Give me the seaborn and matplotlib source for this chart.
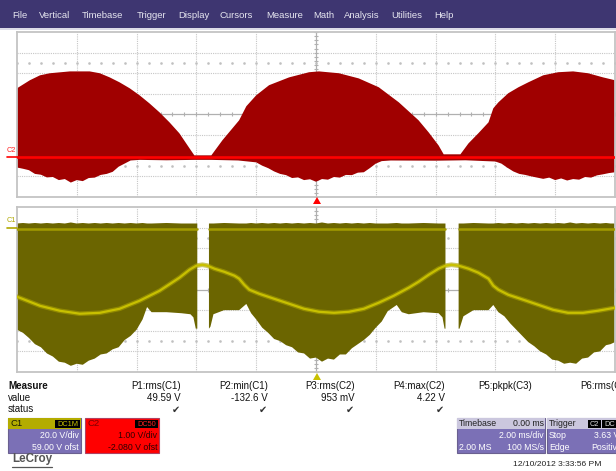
import numpy as np
import matplotlib
matplotlib.use('Agg')
import matplotlib.pyplot as plt
import seaborn as sns
from matplotlib.patches import Rectangle, Polygon

sns.set_theme(style='white')
plt.rcParams['font.family'] = ['Liberation Sans', 'DejaVu Sans']

# ---------------- data (time in ms, volts) ----------------
# C2 (red, 1 V/div, offset -2.08 V): upper envelope
c2_hi_t = [-10.0, -9.57, -9.23, -8.9, -8.23, -7.57, -7.23, -6.9, -6.57, -6.23, -5.9, -5.57,
           -5.23, -4.9, -4.57, -4.23, -4.07, -3.5, -3.13, -2.57, -2.33, -2.0, -1.57, -0.9,
           -0.23, 0.1, 0.77, 1.43, 2.1, 2.77, 3.43, 3.77, 4.1, 4.27, 4.83, 5.1, 5.43, 5.77,
           5.93, 6.1, 6.43, 6.77, 7.1, 7.6, 8.1, 8.6, 9.1, 9.6, 10.0]
c2_hi_v = [3.35, 3.74, 3.98, 4.08, 4.17, 4.17, 4.08, 3.88, 3.64, 3.35, 3.01, 2.62,
           2.18, 1.70, 1.17, 0.44, 0.10, 0.10, 0.83, 1.80, 2.48, 3.01, 3.50, 3.88,
           4.13, 4.17, 4.08, 3.83, 3.40, 2.67, 1.80, 1.21, 0.58, 0.15, 0.15, 0.68, 1.17, 1.70,
           2.38, 2.67, 3.11, 3.40, 3.64, 3.98, 4.13, 4.17, 4.08, 3.88, 3.74]
# C2 lower envelope
c2_lo_t = [-10.0, -9.8, -9.6, -9.4, -9.2, -9.0, -8.8, -8.6, -8.4, -8.2, -8.0, -7.8, -7.6,
           -7.4, -7.2, -7.0, -6.8, -6.6, -6.4, -6.2, -5.9, -5.0, -4.07, -3.5, -2.6, -2.0,
           -1.8, -1.6, -1.4, -1.2, -1.0, -0.8, -0.6, -0.4, -0.2, 0.0, 0.2, 0.4, 0.6, 0.8,
           1.0, 1.2, 1.4, 1.6, 1.8, 2.0, 2.2, 2.5, 4.0, 5.0, 6.0, 6.2, 6.4, 6.6, 6.8, 7.0,
           7.2, 7.4, 7.6, 7.8, 8.0, 8.2, 8.4, 8.6, 8.8, 9.0, 9.2, 9.4, 9.6, 9.8, 10.0]
c2_lo_v = [-0.49, -0.55, -0.62, -0.80, -0.84, -0.97, -0.95, -1.10, -1.05, -1.22, -1.10, -1.15, -1.00,
           -0.98, -0.85, -0.80, -0.70, -0.45, -0.30, -0.15, -0.12, -0.14, -0.12, -0.12, -0.15, -0.24,
           -0.40, -0.52, -0.68, -0.80, -0.86, -1.00, -0.97, -1.10, -1.06, -1.18, -1.05, -1.08, -0.95, -0.98,
           -0.85, -0.86, -0.74, -0.72, -0.52, -0.30, -0.18, -0.15, -0.16, -0.14, -0.20, -0.30, -0.50, -0.68, -0.80, -0.85,
           -0.92, -0.98, -1.04, -0.98, -1.10, -1.02, -1.12, -1.05, -1.08, -0.95, -0.98, -0.87, -0.82, -0.76, -0.72]

# C1 (olive, 20 V/div, offset 59 V): envelope on a common grid, NaN = gap
nan = np.nan
c1_t = [-10.0, -9.8, -9.6, -9.4, -9.2, -9.0, -8.8, -8.6, -8.4, -8.2, -8.0, -7.8, -7.6, -7.4,
        -7.2, -7.0, -6.8, -6.6, -6.4, -6.2, -6.0, -5.8, -5.65, -5.5, -5.0, -4.5, -4.2, -4.1,
        -4.02, -3.97, -3.8, -3.58, -3.53, -3.43, -3.07, -2.57, -2.33, -2.17, -2.0, -1.8, -1.6,
        -1.4, -1.2, -1.0, -0.8, -0.6, -0.4, -0.2, 0.0, 0.2, 0.4, 0.6, 0.8, 1.0, 1.2, 1.4, 1.6,
        1.8, 2.0, 2.2, 2.4, 2.7, 2.87, 3.1, 3.6, 4.1, 4.23, 4.3, 4.33, 4.55, 4.77, 4.8, 4.93,
        5.27, 5.77, 5.93, 6.1, 6.3, 6.5, 6.7, 6.9, 7.1, 7.3, 7.5, 7.7, 7.9, 8.1, 8.3, 8.5, 8.7,
        8.9, 9.1, 9.3, 9.5, 9.7, 9.85, 10.0]
c1_hi = [5, 5.5, 5, 5.5, 5, 5.5, 5, 5.5, 5, 6, 5, 5.5, 5, 5.5,
         5, 5.5, 5, 5.5, 5, 5.5, 5, 5.5, 5, 5, 5.5, 5, 5, 5,
         5, 5, nan, 5, 5, 5, 5.5, 5, 5, 5.5, 5, 5.5, 5,
         5.5, 5, 5.5, 5, 5.5, 5, 5.5, 5, 6, 5, 5.5, 5, 5.5, 5, 5.5, 5,
         5.5, 5, 5, 5, 5.5, 5, 5, 5.5, 5, 5, 5, 5, nan, 5, 5, 5,
         5.5, 5, 5, 5.5, 5, 5.5, 5, 5.5, 5, 5.5, 5, 5.5, 5, 5.5, 5, 6, 5,
         5.5, 5, 5.5, 5, 5.5, 5, 5]
c1_lo = [-98, -101, -106, -112, -115, -121, -124, -129, -130, -133, -131, -132, -128, -126,
         -122, -121, -117, -115, -108, -104, -98, -88, -76, -81, -81, -82, -83, -86,
         -97, -97, nan, -97, -95, -83, -79, -79, -73, -82, -88, -96, -101,
         -107, -109, -113, -115, -120, -121, -126, -125, -129, -126, -127, -122, -122, -116, -112, -108,
         -103, -96, -90, -80, -74, -81, -83, -81, -82, -86, -97, -97, nan, -97, -97, -85,
         -79, -79, -74, -81, -85, -92, -98, -104, -110, -114, -119, -122, -127, -128, -131, -130, -131,
         -126, -125, -120, -119, -113, -112, -110]

# C1 averaged (bright) trace
c1_avg_t = [-10.0, -9.23, -8.57, -7.9, -7.23, -6.57, -5.9, -5.23, -4.57, -4.23, -4.0, -3.8, -3.63,
            -3.4, -3.07, -2.73, -2.57, -2.4, -2.23, -1.9, -1.4, -0.9, -0.4, 0.1, 0.6, 1.1, 1.6,
            2.1, 2.6, 3.1, 3.43, 3.77, 4.1, 4.33, 4.53, 4.77, 5.1, 5.43, 5.77, 5.93, 6.1, 6.43,
            6.93, 7.43, 7.93, 8.43, 8.93, 9.43, 10.0]
c1_avg_v = [-66.0, -74.8, -79.6, -82.5, -81.6, -77.7, -69.9, -60.2, -47.6, -39.8, -35.9, -35.0, -35.9,
            -38.8, -41.8, -45.6, -48.5, -54.4, -59.2, -63.1, -68.0, -72.8, -77.7, -80.6, -81.6, -80.6, -77.7,
            -71.8, -65.1, -57.3, -51.5, -44.7, -38.8, -35.9, -35.0, -35.9, -38.8, -42.7, -48.5, -55.3, -59.2, -64.1,
            -68.9, -73.8, -78.7, -81.6, -81.6, -79.6, -76.7]

menu_items = ['File', 'Vertical', 'Timebase', 'Trigger', 'Display', 'Cursors', 'Measure',
              'Math', 'Analysis', 'Utilities', 'Help']
meas_names = ['P1:rms(C1)', 'P2:min(C1)', 'P3:rms(C2)', 'P4:max(C2)', 'P5:pkpk(C3)']
meas_values = ['49.59 V', '-132.6 V', '953 mV', '4.22 V', '']

# ---------------- figure ----------------
W, H = 616, 471
fig = plt.figure(figsize=(W / 100, H / 100), dpi=100)
fig.patch.set_facecolor('white')


def fx(x):
    return x / W


def fy(y):
    return 1 - y / H


def rect(x0, y0, x1, y1, **kw):
    fig.patches.append(Rectangle((fx(x0), fy(y1)), (x1 - x0) / W, (y1 - y0) / H,
                                 transform=fig.transFigure, **kw))


def txt(x, y, s, **kw):
    kw.setdefault('va', 'center')
    fig.text(fx(x), fy(y), s, **kw)


def scope_grid(ax, center, vdiv):
    ax.set_xlim(-10, 10)
    ax.set_ylim(center - 4 * vdiv, center + 4 * vdiv)
    ax.set_xticks([])
    ax.set_yticks([])
    ax.set_facecolor('white')
    for t in range(-8, 10, 2):
        if t != 0:
            ax.axvline(t, color='#c6c6c6', lw=0.8, ls=(0, (1, 1)), zorder=0)
    for k in (-3, -2, -1, 1, 2, 3):
        ax.axhline(center + k * vdiv, color='#c6c6c6', lw=0.8, ls=(0, (1, 1)), zorder=0)
    ax.axvline(0, color='#b0b0b0', lw=0.9, zorder=0)
    ax.axhline(center, color='#b0b0b0', lw=0.9, zorder=0)
    minor = np.arange(-10, 10.01, 0.4)
    ax.plot(minor, np.full_like(minor, center), ls='none', marker='|', ms=3,
            mew=0.8, color='#b0b0b0', zorder=0)
    for k in (-2.5, 2.5):
        ax.plot(minor, np.full_like(minor, center + k * vdiv), ls='none', marker='s',
                ms=0.8, color='#c0c0c0', zorder=0)
    ymin = np.arange(center - 4 * vdiv, center + 4 * vdiv + 1e-9, vdiv / 5)
    ax.plot(np.zeros_like(ymin), ymin, ls='none', marker='_', ms=3, mew=0.8,
            color='#b0b0b0', zorder=0)
    for s in ax.spines.values():
        s.set_color('#c4c4c4')
        s.set_linewidth(1.3)


# menu bar
rect(0, 0, W, 28, color='#3e3671', lw=0)
rect(0, 28, W, 30, color='#dcdbe8', lw=0)
menu_x = [12, 39, 82, 137, 178, 220, 266, 313, 344, 391, 434]
for x, s in zip(menu_x, menu_items):
    txt(x, 16, s, color='#e6e6f0', fontsize=6.8)

# top panel: C2
ax2 = fig.add_axes([fx(17), fy(197), (615 - 17) / W, 165 / H])
scope_grid(ax2, 2.08, 1.0)
ax2.fill(np.r_[c2_hi_t, c2_lo_t[::-1]], np.r_[c2_hi_v, c2_lo_v[::-1]],
         color='#a00000', lw=0, zorder=2)
ax2.axhline(0.0, color='#ff0000', lw=1.9, zorder=3)

# bottom panel: C1
ax1 = fig.add_axes([fx(17), fy(372), (615 - 17) / W, 165 / H])
scope_grid(ax1, -59.0, 20.0)
c1_t_a = np.array(c1_t)
c1_hi_a = np.array(c1_hi, dtype=float)
c1_lo_a = np.array(c1_lo, dtype=float)
ax1.fill_between(c1_t_a, c1_lo_a, c1_hi_a, color='#6b6500', lw=0, zorder=2)
ax1.plot(c1_t_a, np.where(np.isnan(c1_hi_a), np.nan, 0.0), color='#a39c00', lw=1.8, zorder=3)
ax1.plot(c1_avg_t, c1_avg_v, color='#a8a000', lw=3.4, alpha=0.6, zorder=4)
sns.lineplot(x=c1_avg_t, y=c1_avg_v, ax=ax1, color='#c8c000', lw=1.6, zorder=5,
             sort=False, estimator=None)
ax1.set_xlabel('')
ax1.set_ylabel('')

# channel markers on the left
txt(7, 151, 'C2', color='#ff2020', fontsize=5.3)
fig.lines.append(plt.Line2D([fx(7), fx(17)], [fy(157.4), fy(157.4)], transform=fig.transFigure,
                            color='#ff0000', lw=1.2))
txt(7, 221, 'C1', color='#b0a800', fontsize=5.3)
fig.lines.append(plt.Line2D([fx(7), fx(17)], [fy(227.5), fy(227.5)], transform=fig.transFigure,
                            color='#b0a800', lw=1.2))

# trigger markers
fig.patches.append(Polygon([(fx(313), fy(204)), (fx(321), fy(204)), (fx(317), fy(197))],
                           closed=True, transform=fig.transFigure, color='#ff0000', lw=0))
fig.patches.append(Polygon([(fx(313), fy(380)), (fx(321), fy(380)), (fx(317), fy(373))],
                           closed=True, transform=fig.transFigure, color='#c8c000', lw=0))

# measure table
txt(8, 386, 'Measure', fontsize=7, fontweight='bold', color='#111111')
txt(8, 398, 'value', fontsize=7, color='#111111')
txt(8, 409.5, 'status', fontsize=7, color='#111111')
col_x = [181, 268, 355, 445, 532]
for x, name, val in zip(col_x, meas_names, meas_values):
    txt(x, 386, name, fontsize=7, ha='right', color='#111111')
    if val:
        txt(x, 398, val, fontsize=7, ha='right', color='#111111')
        txt(x - 5, 409.5, '\u2714', fontsize=7, ha='center', color='#333333',
            family=['DejaVu Sans'])
txt(580, 386, 'P6:rms(C1)', fontsize=7, color='#111111')

# C1 descriptor box
rect(8, 418, 81, 453, facecolor='#7b70b6', edgecolor='#6a6090', lw=0.8)
rect(8, 418, 81, 429, facecolor='#b4ac00', lw=0)
txt(10.5, 423.5, 'C1', fontsize=6.8, color='#1a1a00')
rect(55, 419.5, 80, 428, facecolor='#000000', lw=0)
txt(67.5, 424, 'DC1M', fontsize=5.3, ha='center', color='#c8c000')
txt(79, 436, '20.0 V/div', fontsize=6.3, ha='right', color='white')
txt(79, 447, '59.00 V ofst', fontsize=6.3, ha='right', color='white')

# C2 descriptor box
rect(85, 418, 159, 453, facecolor='#ff0000', edgecolor='#b04060', lw=0.8)
txt(88, 423.5, 'C2', fontsize=6.8, color='#7a0000')
rect(135, 419.5, 158, 428, facecolor='#000000', lw=0)
txt(146.5, 424, 'DC50', fontsize=5.3, ha='center', color='#ff2020')
txt(157.5, 436, '1.00 V/div', fontsize=6.3, ha='right', color='#300000')
txt(157.5, 447, '-2.080 V ofst', fontsize=6.3, ha='right', color='#300000')

# timebase box
rect(457, 418, 545, 453, facecolor='#7b70b6', edgecolor='#6a6090', lw=0.8)
rect(457, 418, 545, 429, facecolor='#cbc7de', lw=0)
txt(459, 423.5, 'Timebase', fontsize=6.3, color='#222222')
txt(544, 423.5, '0.00 ms', fontsize=6.3, ha='right', color='#222222')
txt(544, 436, '2.00 ms/div', fontsize=6.3, ha='right', color='white')
txt(459, 447, '2.00 MS', fontsize=6.3, color='white')
txt(544, 447, '100 MS/s', fontsize=6.3, ha='right', color='white')

# trigger box
rect(547, 418, 622, 453, facecolor='#7b70b6', edgecolor='#6a6090', lw=0.8)
rect(547, 418, 622, 429, facecolor='#cbc7de', lw=0)
txt(549, 423.5, 'Trigger', fontsize=6.3, color='#222222')
rect(588, 419.5, 601, 428, facecolor='#000000', lw=0)
txt(594.5, 424, 'C2', fontsize=5.3, ha='center', color='#dddddd')
rect(602, 419.5, 622, 428, facecolor='#000000', lw=0)
txt(604, 424, 'DC', fontsize=5.3, color='#dddddd')
txt(549, 436, 'Stop', fontsize=6.3, color='white')
txt(619, 436, '3.63 V', fontsize=6.3, ha='right', color='white')
txt(549, 447, 'Edge', fontsize=6.3, color='white')
txt(622, 447, 'Positive', fontsize=6.3, ha='right', color='white')

# date and logo
txt(513, 464, '12/10/2012 3:33:56 PM', fontsize=6.1, color='#222222')
txt(12, 459, 'LeCroy', fontsize=8.4, fontweight='bold', color='#555555')
fig.lines.append(plt.Line2D([fx(12), fx(52)], [fy(467), fy(467)], transform=fig.transFigure,
                            color='#555555', lw=0.9))

fig.savefig('out.png', dpi=100)
